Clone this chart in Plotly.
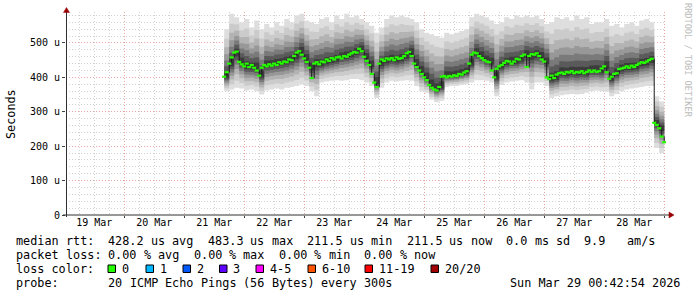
import plotly.graph_objects as go
import pandas as pd

# ---------------- data ----------------
window = ["2026-03-19 00:42:54", "2026-03-29 00:42:54"]

median_start = "2026-03-21 16:00"          # hourly readings of the median RTT (microseconds)
median_us = [
    402, 415, 440, 458, 472, 475, 445, 438,
    432, 440, 430, 436, 428, 420, 405, 428,
    436, 432, 438, 434, 440, 436, 444, 440,
    446, 444, 452, 450, 462, 472, 476, 466,
    455, 445, 428, 398, 440, 444, 438, 446,
    444, 452, 448, 456, 452, 458, 460, 455,
    462, 460, 466, 470, 474, 472, 483, 476,
    460, 448, 436, 410, 385, 372, 440, 452,
    448, 455, 452, 456, 450, 458, 454, 456,
    462, 470, 474, 462, 440, 430, 420, 410,
    400, 392, 378, 370, 365, 362, 372, 402,
    404, 400, 404, 402, 406, 404, 410, 408,
    414, 418, 440, 466, 472, 470, 462, 456,
    450, 446, 444, 420, 400, 425, 432, 436,
    442, 448, 446, 440, 446, 454, 452, 462,
    466, 430, 462, 468, 466, 470, 462, 452,
    446, 400, 395, 405, 398, 408, 412, 414,
    410, 416, 414, 418, 412, 416, 414, 418,
    412, 416, 420, 416, 420, 416, 418, 426,
    432, 415, 396, 402, 410, 412, 424, 426,
    428, 432, 428, 434, 430, 436, 440, 444,
    442, 446, 450, 454, 268, 262, 252, 228,
    211.5,
]

smoke_start = "2026-03-21 16:00"           # 2-hourly readings of the ping spread (microseconds)
smoke_hi_us = [
    540, 585, 575, 560, 570, 545, 565, 540,
    555, 545, 560, 550, 570, 560, 580, 585,
    565, 560, 555, 570, 575, 560, 580, 570,
    585, 575, 580, 570, 560, 550, 530, 545,
    570, 580, 575, 580, 575, 570, 560, 540,
    530, 525, 520, 515, 530, 525, 530, 535,
    540, 575, 585, 580, 575, 565, 555, 560,
    575, 570, 580, 575, 580, 575, 580, 570,
    555, 560, 575, 570, 575, 565, 580, 570,
    575, 555, 560, 560, 570, 550, 555, 545,
    555, 560, 550, 565, 570, 560, 345, 330,
    300,
]
smoke_lo_us = [
    360, 365, 370, 368, 362, 365, 360, 350,
    362, 365, 368, 365, 370, 372, 375, 380,
    375, 360, 345, 385, 388, 390, 392, 390,
    392, 395, 395, 392, 385, 375, 340, 370,
    385, 390, 388, 390, 392, 390, 375, 360,
    355, 335, 328, 332, 372, 375, 375, 378,
    380, 385, 392, 392, 390, 385, 345, 378,
    385, 388, 390, 392, 385, 365, 385, 385,
    375, 340, 345, 348, 350, 352, 350, 352,
    355, 360, 362, 360, 358, 345, 352, 360,
    365, 368, 370, 372, 375, 375, 195, 180,
    168,
]

day_label_times = ["2026-03-%02d 12:00" % d for d in range(19, 29)]
day_labels = ["%d Mar" % d for d in range(19, 29)]
day_bounds = ["2026-03-%02d 00:00" % d for d in range(20, 30)]

y_ticks = [0, 100, 200, 300, 400, 500]
y_labels = ["0", "100 u", "200 u", "300 u", "400 u", "500 u"]

rtt_line = "median rtt:  428.2 us avg  483.3 us max  211.5 us min  211.5 us now  0.0 ms sd  9.9   am/s"
loss_line = "packet loss: 0.00 % avg  0.00 % max  0.00 % min  0.00 % now"
loss_title = "loss color:"
loss_labels = ["0", "1", "2", "3", "4-5", "6-10", "11-19", "20/20"]
loss_colors = ["#26ff00", "#00b8ff", "#0059ff", "#5e00ff", "#ff00ff",
               "#ff5500", "#ff0000", "#a10000"]
probe_line = "probe:       20 ICMP Echo Pings (56 Bytes) every 300s"
stamp = "Sun Mar 29 00:42:54 2026"

# ---------------- layout geometry (pixels) ----------------
W, H = 697, 297
L, R, T, B = 66, 31, 12, 82
PW, PH = W - L - R, H - T - B


def px(x):
    return (x - L) / PW


def py(y):
    return (H - B - y) / PH


MONO = "DejaVu Sans Mono"
FS = 11.8                 # legend font size
PITCH = FS * 0.602        # monospace advance

t_med = pd.date_range(median_start, periods=len(median_us), freq="h")
t_smk = pd.date_range(smoke_start, periods=len(smoke_hi_us), freq="2h")
med2 = median_us[::2]

fig = go.Figure()

# smoke: shaded bands between the ping spread and the median
fracs = [1.00, 0.80, 0.62, 0.47, 0.34, 0.22, 0.11]
grays = ["#dedede", "#cbcbcb", "#b3b3b3", "#989898", "#7a7a7a", "#5a5a5a", "#3c3c3c"]
for f, c in zip(fracs, grays):
    up = [m + (h - m) * f for m, h in zip(med2, smoke_hi_us)]
    dn = [m - (m - l) * f for m, l in zip(med2, smoke_lo_us)]
    fig.add_trace(go.Scatter(x=t_smk, y=dn, mode="lines", line=dict(width=0, shape="hv"),
                             hoverinfo="skip", showlegend=False))
    fig.add_trace(go.Scatter(x=t_smk, y=up, mode="lines", line=dict(width=0, shape="hv"),
                             fill="tonexty", fillcolor=c, hoverinfo="skip", showlegend=False))

# median
fig.add_trace(go.Scatter(x=t_med, y=median_us, mode="lines", xaxis="x2",
                         line=dict(color="#1a1a1a", width=1, shape="hv"),
                         showlegend=False, hoverinfo="skip"))
fig.add_trace(go.Scatter(x=t_med, y=median_us, mode="markers", xaxis="x2",
                         marker=dict(symbol="line-ew", size=3,
                                     line=dict(width=2.2, color=loss_colors[0])),
                         showlegend=False))

grid_minor = "#d2d2d2"
grid_major = "#e9a4a4"
dash = "1px,2px"

fig.update_layout(
    width=W, height=H,
    margin=dict(l=L, r=R, t=T, b=B, pad=0),
    paper_bgcolor="white", plot_bgcolor="white",
    showlegend=False,
    font=dict(family=MONO, size=10, color="#000000"),
    xaxis=dict(
        type="date", range=window, tickmode="array", tickvals=day_bounds,
        showticklabels=False, showgrid=True, gridcolor=grid_major, griddash=dash,
        gridwidth=1, ticks="outside", ticklen=2, tickcolor="#404040",
        zeroline=False, showline=False,
        minor=dict(tickmode="linear", tick0="2026-03-19 00:00", dtick=6 * 3600 * 1000,
                   showgrid=True, gridcolor=grid_minor, griddash=dash, ticks=""),
    ),
    xaxis2=dict(
        type="date", range=window, overlaying="x", anchor="y", side="bottom",
        tickmode="array", tickvals=day_label_times, ticktext=day_labels,
        showgrid=False, ticks="", showline=False, zeroline=False,
        tickfont=dict(family=MONO, size=10, color="#000000"),
    ),
    yaxis=dict(
        range=[0, 590], tickmode="array", tickvals=y_ticks, ticktext=y_labels,
        showgrid=True, gridcolor=grid_major, griddash=dash, gridwidth=1,
        ticks="outside", ticklen=3, tickcolor="#404040", zeroline=False, showline=False,
        tickfont=dict(family=MONO, size=10, color="#000000"),
        minor=dict(tickmode="linear", tick0=0, dtick=20, showgrid=True,
                   gridcolor=grid_minor, griddash=dash, ticks=""),
    ),
)

shapes = []
axis_col = "#303030"
arrow_col = "#9a0000"
# axes
shapes.append(dict(type="line", xref="paper", yref="paper", x0=px(66.5), x1=px(66.5),
                   y0=py(217), y1=py(11), line=dict(color=axis_col, width=1)))
shapes.append(dict(type="line", xref="paper", yref="paper", x0=px(63), x1=px(669),
                   y0=py(215), y1=py(215), line=dict(color=axis_col, width=1)))
# arrows
shapes.append(dict(type="path", xref="paper", yref="paper",
                   path="M %f %f L %f %f L %f %f Z" % (px(66.5), py(7.5), px(63.5), py(12.5),
                                                       px(69.5), py(12.5)),
                   fillcolor=arrow_col, line=dict(color=arrow_col, width=0.5)))
shapes.append(dict(type="path", xref="paper", yref="paper",
                   path="M %f %f L %f %f L %f %f Z" % (px(674), py(215), px(669), py(212),
                                                       px(669), py(218)),
                   fillcolor=arrow_col, line=dict(color=arrow_col, width=0.5)))

annotations = []


def text(x, y, s, size=FS, color="#000000", angle=0, anchor="left"):
    annotations.append(dict(xref="paper", yref="paper", x=px(x), y=py(y), text=s,
                            showarrow=False, xanchor=anchor, yanchor="middle",
                            textangle=angle, borderpad=0,
                            font=dict(family=MONO, size=size, color=color)))


def mono_line(x0, y, s):
    # place each word at its monospace column so spacing is kept exactly
    col = 0
    for word in s.split(" "):
        if word:
            text(x0 + col * PITCH, y, word)
        col += len(word) + 1


# y-axis title and watermark
text(11, 114, "Seconds", angle=-90, anchor="center")
text(688, 60, "RRDTOOL / TOBI OETIKER", size=8.6, color="#bcbcbc", angle=90, anchor="center")

# legend lines
X0 = 15
row_y = [241, 255, 269, 283]
mono_line(X0, row_y[0], rtt_line)
mono_line(X0, row_y[1], loss_line)
text(X0, row_y[2], loss_title)
for s, c, x in zip(loss_labels, loss_colors, [108, 146, 183, 219.5, 256, 308, 365, 431]):
    shapes.append(dict(type="rect", xref="paper", yref="paper", x0=px(x), x1=px(x + 7.5),
                       y0=py(265), y1=py(272.5), fillcolor=c,
                       line=dict(color="#000000", width=1)))
    text(x + 12.5, row_y[2], s)
mono_line(X0, row_y[3], probe_line)
text(681, row_y[3], stamp, anchor="right")

fig.update_layout(shapes=shapes, annotations=annotations)
fig.write_html("out.html")
